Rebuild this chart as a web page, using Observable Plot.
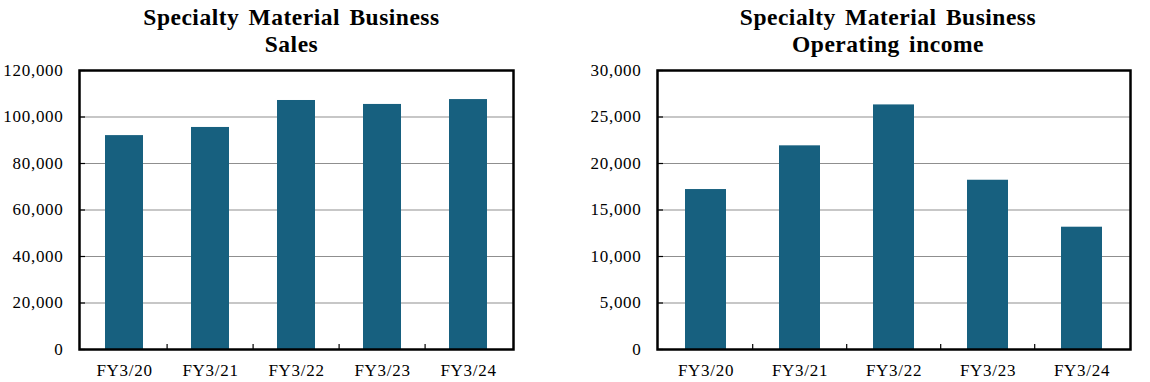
<!DOCTYPE html>
<html>
<head>
<meta charset="utf-8">
<script src="https://cdn.jsdelivr.net/npm/d3@7"></script>
<script src="https://cdn.jsdelivr.net/npm/@observablehq/plot@0.6"></script>
<style>
  body { margin: 0; background: #fff; }
  #wrap { position: relative; width: 1150px; height: 382px; overflow: hidden; font-family: "Liberation Serif", "Times New Roman", serif; }
  .chart { position: absolute; top: 0; }
  .chart svg text { letter-spacing: 0.7px; }
  .title { position: absolute; top: 4px; text-align: center; font-weight: bold; font-size: 23.5px; line-height: 27px; color: #000; letter-spacing: 0.5px; word-spacing: 3px; z-index: 2; }
</style>
</head>
<body>
<div id="wrap">
  <div class="title" id="t1" style="left:0px;width:583px;"></div>
  <div class="title" id="t2" style="left:588px;width:600px;"></div>
  <div class="chart" id="c1" style="left:0px;"></div>
  <div class="chart" id="c2" style="left:575px;"></div>
</div>
<script>
const fiscalYears = ["FY3/20", "FY3/21", "FY3/22", "FY3/23", "FY3/24"];
const salesValues = [92000, 95500, 107100, 105400, 107500];
const incomeValues = [17200, 21900, 26300, 18200, 13150];
const salesTicks = [0, 20000, 40000, 60000, 80000, 100000, 120000];
const incomeTicks = [0, 5000, 10000, 15000, 20000, 25000, 30000];
const titleLine1 = "Specialty Material Business";
const salesTitle = "Sales";
const incomeTitle = "Operating income";

const barColor = "#17607f";
const gridColor = "#8f8f8f";

function makeChart(values, ticks, width, mL, mR) {
  const data = fiscalYears.map((year, i) => ({year, value: values[i]}));
  const step = (width - mL - mR) / fiscalYears.length;
  return Plot.plot({
    width, height: 382,
    marginTop: 70, marginBottom: 33, marginLeft: mL, marginRight: mR,
    style: {fontFamily: "'Liberation Serif', 'Times New Roman', serif", fontSize: "17px", color: "#000", background: "transparent", overflow: "visible"},
    x: {domain: fiscalYears, paddingInner: 0.56, paddingOuter: 0.28, label: null},
    y: {domain: [ticks[0], ticks[ticks.length - 1]], label: null},
    marks: [
      Plot.ruleY(ticks.slice(1, -1), {stroke: gridColor, strokeWidth: 1}),
      Plot.barY(data, {x: "year", y: "value", fill: barColor}),
      Plot.axisY({ticks, tickSize: 0, tickPadding: 16, tickFormat: d3.format(","), label: null}),
      Plot.axisY({ticks, tickSize: -6, tickFormat: () => "", label: null, strokeWidth: 1.2}),
      Plot.axisX({ticks: fiscalYears.slice(1), tickSize: -5, tickFormat: () => "", dx: -step / 2, label: null, strokeWidth: 1.2}),
      Plot.axisX({tickSize: 0, tickPadding: 14, label: null}),
      Plot.frame({stroke: "#000", strokeWidth: 2.5})
    ]
  });
}

document.getElementById("t1").innerHTML = titleLine1 + "<br>" + salesTitle;
document.getElementById("t2").innerHTML = titleLine1 + "<br>" + incomeTitle;
document.getElementById("c1").append(makeChart(salesValues, salesTicks, 575, 79, 62));
document.getElementById("c2").append(makeChart(incomeValues, incomeTicks, 575, 82, 20));
</script>
</body>
</html>
